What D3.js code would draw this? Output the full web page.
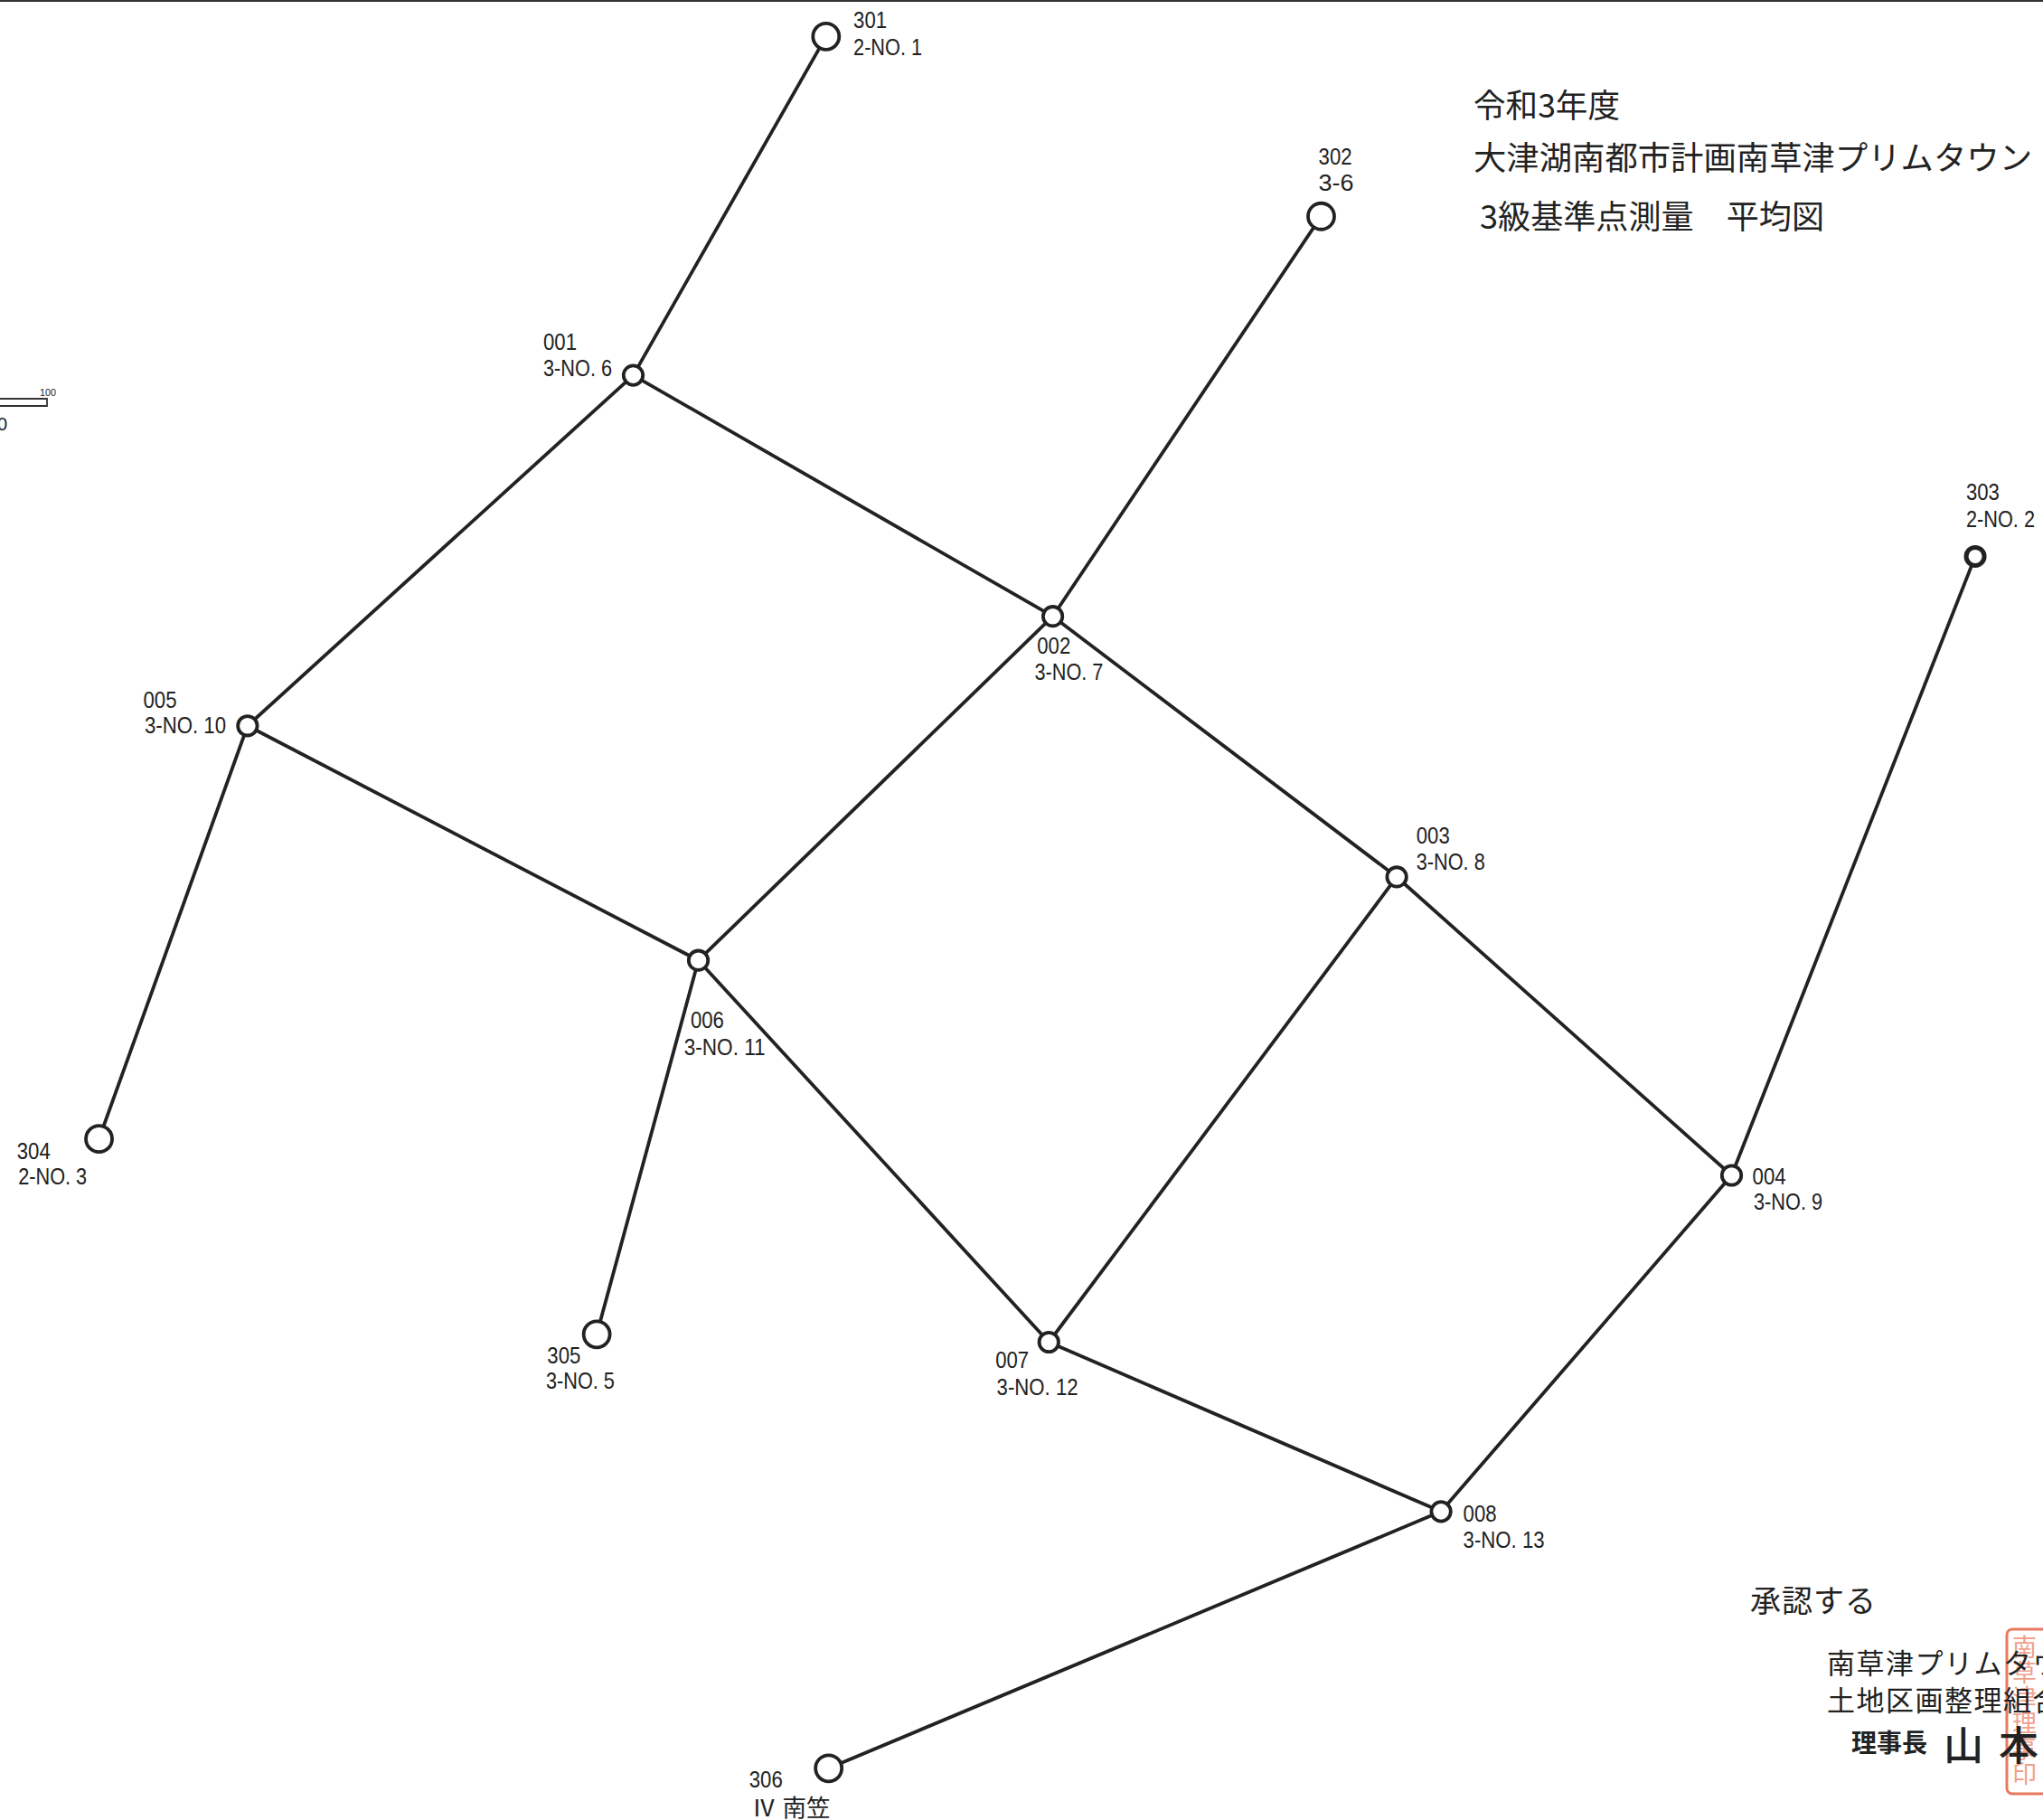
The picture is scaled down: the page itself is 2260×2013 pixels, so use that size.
<!DOCTYPE html>
<html><head><meta charset="utf-8">
<script src="https://d3js.org/d3.v7.min.js"></script>
<style>html,body{margin:0;padding:0;background:#fff;overflow:hidden}svg{display:block}</style>
</head><body><div id="c"></div>
<script>
const stationIds=["301","302","303","304","305","306","001","002","003","004","005","006","007","008"];
const stationNames=["2-NO. 1","3-6","2-NO. 2","2-NO. 3","3-NO. 5","Ⅳ 南笠","3-NO. 6","3-NO. 7","3-NO. 8","3-NO. 9","3-NO. 10","3-NO. 11","3-NO. 12","3-NO. 13"];
const eastings=[634,1014,1516,76,458,636,486,808,1072,1329,190,536,805,1106];
const northings=[28,166,427,874,1024,1357,288,473,673,902,557,737,1030,1160];
const links=[["301","001"],["001","002"],["001","005"],["302","002"],["002","003"],["002","006"],["003","004"],["003","007"],["303","004"],["004","008"],["005","006"],["304","005"],["305","006"],["006","007"],["007","008"],["306","008"]];
const titleLines=["令和3年度","大津湖南都市計画南草津プリムタウン","3級基準点測量　平均図"];
const approvalLines=["承認する","南草津プリムタウン","土地区画整理組合"];
const chairTitle="理事長";
const chairName="山本";
const scaleBarLabels=["0","100"];
const stampText="南草津理事印";

// layout (label anchors, in same units as the survey coordinates)
const idPos={ "301":[655,16],"302":[1012,121],"303":[1509,378],"304":[13,884],"305":[420,1041],"306":[575,1366],"001":[417,263],"002":[796,496],"003":[1087,642],"004":[1345,903],"005":[110,538],"006":[530,783],"007":[764,1044],"008":[1123,1162]};
const namePos={ "301":[655,37],"302":[1012,141],"303":[1509,399],"304":[14,903],"305":[419,1060],"306":[577,1388],"001":[417,283],"002":[794,516],"003":[1087,662],"004":[1346,923],"005":[111,557],"006":[525,804],"007":[765,1065],"008":[1123,1182]};
const W=2260,H=2013;
const x=d3.scaleLinear().domain([0,1568]).range([0,W]);
const y=d3.scaleLinear().domain([0,1396.7]).range([0,H]);
const svg=d3.select("#c").append("svg").attr("width",W).attr("height",H);
const ink="#222";
svg.append("rect").attr("x",0).attr("y",0).attr("width",W).attr("height",2).attr("fill","#333");

const stations=stationIds.map((id,i)=>({id,name:stationNames[i],e:eastings[i],n:northings[i]}));
const byId=new Map(stations.map(s=>[s.id,s]));
svg.append("g").selectAll("line").data(links).join("line")
 .attr("x1",d=>x(byId.get(d[0]).e)).attr("y1",d=>y(byId.get(d[0]).n))
 .attr("x2",d=>x(byId.get(d[1]).e)).attr("y2",d=>y(byId.get(d[1]).n))
 .attr("stroke",ink).attr("stroke-width",3.8);
const radius=d=>d.id==="303"?10:(d.id[0]==="3"?14.5:10.7);
svg.append("g").selectAll("circle").data(stations).join("circle")
 .attr("cx",d=>x(d.e)).attr("cy",d=>y(d.n)).attr("r",radius)
 .attr("fill","#fff").attr("stroke",ink).attr("stroke-width",d=>d.id==="303"?5:3.8);

const labelFont="'Liberation Sans','Noto Sans CJK JP',sans-serif";
const nameWidth=s=>s==="3-6"?39:(s[0]==="Ⅳ"?87:(s.length>7?90:76));
const lab=svg.append("g").attr("fill",ink).style("font-family",labelFont).style("font-size","26px");
lab.selectAll("text.id").data(stations).join("text").attr("class","id")
 .attr("x",d=>x(idPos[d.id][0])).attr("y",d=>y(idPos[d.id][1])).attr("dy","0.31em")
 .attr("textLength",37).attr("lengthAdjust","spacingAndGlyphs").text(d=>d.id);
lab.selectAll("text.nm").data(stations).join("text").attr("class","nm")
 .attr("x",d=>x(namePos[d.id][0])).attr("y",d=>y(namePos[d.id][1])).attr("dy","0.31em")
 .attr("textLength",d=>nameWidth(d.name)).attr("lengthAdjust","spacingAndGlyphs").text(d=>d.name);

const jp="'Noto Sans CJK JP',sans-serif";
const title=[[1630,130,162],[1630,188,618],[1637,253,381]];
svg.append("g").style("font-family",jp).style("font-size","36px").attr("fill",ink)
 .selectAll("text").data(titleLines).join("text")
 .attr("x",(d,i)=>title[i][0]).attr("y",(d,i)=>title[i][1])
 .attr("textLength",(d,i)=>title[i][2]).attr("lengthAdjust","spacingAndGlyphs").text(d=>d);

// stamp sits under the black text
const stamp=svg.append("g");
stamp.append("rect").attr("x",2220).attr("y",1802).attr("width",70).attr("height",182).attr("rx",6)
 .attr("fill","none").attr("stroke","#e8795f").attr("stroke-width",3);
stamp.selectAll("text").data(Array.from(stampText)).join("text")
 .attr("x",2226).attr("y",(d,i)=>1832+i*28).attr("fill","#f0a08c").style("font-family",jp).style("font-size","27px").text(d=>d);

const appr=[[1936,1783,34],[2021,1851,31],[2021,1892,31]];
svg.append("g").style("font-family",jp).attr("fill",ink)
 .selectAll("text").data(approvalLines).join("text")
 .attr("x",(d,i)=>appr[i][0]).attr("y",(d,i)=>appr[i][1]).style("font-size",(d,i)=>appr[i][2]+"px")
 .style("letter-spacing",(d,i)=>i?"1.5px":"1px").text(d=>d);
svg.append("text").attr("x",2048).attr("y",1938).style("font-family",jp).style("font-size","28px").attr("font-weight",700).attr("fill",ink).text(chairTitle);
svg.append("text").attr("x",2150).attr("y",1947).style("font-family",jp).style("font-size","44px").attr("font-weight",500).attr("fill",ink).style("letter-spacing","17px").text(chairName);

// scale bar
const bar=svg.append("g").attr("fill","none").attr("stroke","#333").attr("stroke-width",1.8);
bar.append("path").attr("d",d3.line()([[0,441],[52,441],[52,449],[0,449]]));
svg.append("text").attr("x",44).attr("y",438).attr("textLength",18).attr("lengthAdjust","spacingAndGlyphs").attr("fill",ink).style("font-family",labelFont).style("font-size","11px").text(scaleBarLabels[1]);
svg.append("text").attr("x",-3).attr("y",476).attr("fill",ink).style("font-family",labelFont).style("font-size","20px").text(scaleBarLabels[0]);
</script></body></html>
